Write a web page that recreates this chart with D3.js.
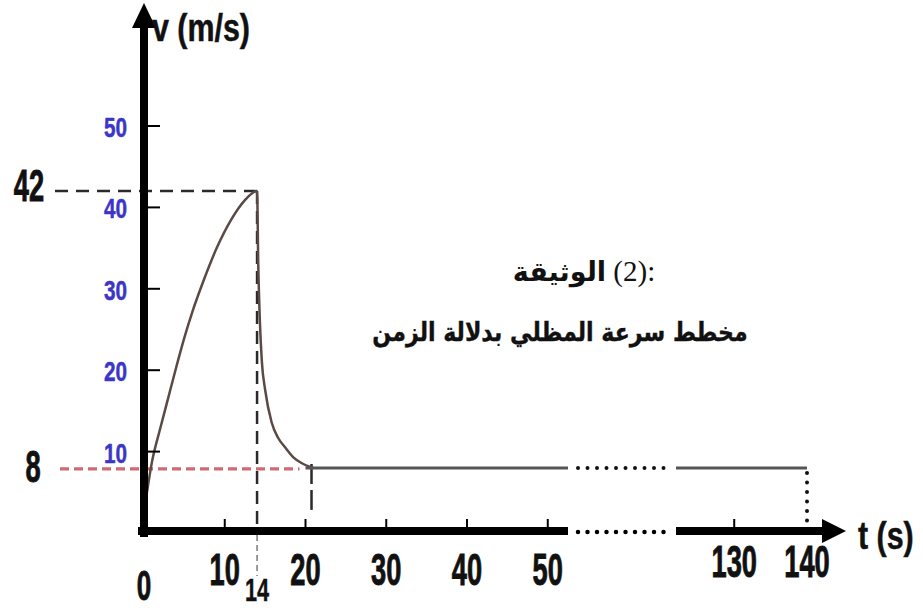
<!DOCTYPE html>
<html>
<head>
<meta charset="utf-8">
<script src="https://cdn.jsdelivr.net/npm/d3@7"></script>
<style>
  body { margin: 0; background: #fff; }
</style>
</head>
<body>
<div id="chart"></div>
<script>
// values
const yTicks = [10, 20, 30, 40, 50];
const xTicks = [0, 10, 20, 30, 40, 50, 130, 140];
const speedT = [0, 1, 2, 3, 4, 5, 6, 7.3, 9, 10.8, 12.5, 14,
  14.15, 14.35, 14.6, 15, 15.8, 16.6, 17.5, 18.5, 19.5, 20.5, 21];
const speedV = [2.5, 8.8, 12.8, 16.6, 20.4, 24, 27.2, 30.8, 35, 38.5, 40.9, 42,
  33, 26, 21, 17.6, 13.6, 11.7, 10.5, 9.3, 8.6, 8.15, 8];
const peak = { t: 14, v: 42 };
const terminal = { t: 20, v: 8 };
const tEnd = 140;
const axisBreak = [53, 122];
const titleWord = 'الوثيقة';
const titleNum = '(2):';
const subtitle = 'مخطط سرعة المظلي بدلالة الزمن';

const width = 923;
const height = 610;
const numFont = "'Liberation Sans', Arial, sans-serif";

const svg = d3.select('#chart').append('svg')
  .attr('width', width)
  .attr('height', height);

// broken time axis: 53..122 is squeezed into the dotted gap
const x = d3.scaleLinear()
  .domain([0, axisBreak[0], axisBreak[1], tEnd])
  .range([144, 572, 676, 807]);
const y = d3.scaleLinear()
  .domain([0, 50])
  .range([533, 126]);

const axisY = 531;

// condensed label helper (the original lettering is very narrow and heavy)
function label(txt, px, py, opts) {
  const o = Object.assign({ size: 44, sx: 0.62, weight: 'bold', fill: '#111', anchor: 'middle', bold: 0.9 }, opts);
  svg.append('text')
    .attr('transform', `translate(${px},${py}) scale(${o.sx},1)`)
    .attr('text-anchor', o.anchor)
    .style('font-family', o.family || numFont)
    .style('font-size', `${o.size}px`)
    .style('font-weight', o.weight)
    .style('fill', o.fill)
    .style('stroke', o.fill)
    .style('stroke-width', o.bold)
    .text(txt);
}

// ---------- guide lines ----------
// 42 dashed to the y axis
svg.append('line')
  .attr('x1', 55).attr('x2', x(peak.t))
  .attr('y1', y(peak.v)).attr('y2', y(peak.v))
  .attr('stroke', '#2a2a2a').attr('stroke-width', 2.5)
  .attr('stroke-dasharray', '13 8');

// red dashed at terminal speed
svg.append('line')
  .attr('x1', 60).attr('x2', x(terminal.t) - 6)
  .attr('y1', y(terminal.v) + 1).attr('y2', y(terminal.v) + 1)
  .attr('stroke', '#cf6a74').attr('stroke-width', 3.2)
  .attr('stroke-dasharray', '9 5');

// vertical dashed at t = 14
svg.append('line')
  .attr('x1', x(peak.t)).attr('x2', x(peak.t))
  .attr('y1', y(peak.v)).attr('y2', axisY)
  .attr('stroke', '#2a2a2a').attr('stroke-width', 2.5)
  .attr('stroke-dasharray', '13 7');
svg.append('line')
  .attr('x1', x(peak.t)).attr('x2', x(peak.t))
  .attr('y1', axisY + 4).attr('y2', 576)
  .attr('stroke', '#333').attr('stroke-width', 1)
  .attr('stroke-dasharray', '6 4');

// vertical dashed at t = 20
svg.append('line')
  .attr('x1', x(terminal.t) + 6).attr('x2', x(terminal.t) + 6)
  .attr('y1', y(terminal.v) - 4).attr('y2', 510)
  .attr('stroke', '#2a2a2a').attr('stroke-width', 2.5)
  .attr('stroke-dasharray', '20 6');

// ---------- speed curve ----------
const pts = speedT.map((t, i) => [t, speedV[i]]);
const line = d3.line()
  .x(d => x(d[0]))
  .y(d => y(d[1]))
  .curve(d3.curveMonotoneX);

svg.append('path')
  .datum(pts)
  .attr('d', line)
  .attr('fill', 'none')
  .attr('stroke', '#5a4a46')
  .attr('stroke-width', 2.5);

// plateau at terminal speed, broken like the axis
svg.append('line')
  .attr('x1', x(terminal.t)).attr('x2', x(axisBreak[0]) - 4)
  .attr('y1', y(terminal.v)).attr('y2', y(terminal.v))
  .attr('stroke', '#555').attr('stroke-width', 3);
svg.append('line')
  .attr('x1', x(axisBreak[0]) + 6).attr('x2', x(axisBreak[1]) - 4)
  .attr('y1', y(terminal.v)).attr('y2', y(terminal.v))
  .attr('stroke', '#111').attr('stroke-width', 4)
  .attr('stroke-linecap', 'round')
  .attr('stroke-dasharray', '0 9.5');
svg.append('line')
  .attr('x1', x(axisBreak[1])).attr('x2', x(tEnd))
  .attr('y1', y(terminal.v)).attr('y2', y(terminal.v))
  .attr('stroke', '#555').attr('stroke-width', 3);
// dotted drop at t = 140
svg.append('line')
  .attr('x1', x(tEnd)).attr('x2', x(tEnd))
  .attr('y1', y(terminal.v) + 5).attr('y2', axisY - 6)
  .attr('stroke', '#111').attr('stroke-width', 4)
  .attr('stroke-linecap', 'round')
  .attr('stroke-dasharray', '0 9.5');

// ---------- axes ----------
// y axis shaft + arrow
svg.append('line')
  .attr('x1', x(0)).attr('x2', x(0))
  .attr('y1', axisY + 6).attr('y2', 24)
  .attr('stroke', '#000').attr('stroke-width', 8);
svg.append('path')
  .attr('d', `M${x(0)},3 L${x(0) - 12},28 L${x(0) + 12},28 Z`)
  .attr('fill', '#000');

// y ticks
svg.selectAll('line.ytick')
  .data(yTicks)
  .join('line')
  .attr('class', 'ytick')
  .attr('x1', x(0)).attr('x2', x(0) + 16)
  .attr('y1', d => y(d)).attr('y2', d => y(d))
  .attr('stroke', '#000').attr('stroke-width', 2);
yTicks.forEach((v) => {
  label(String(v), 127, y(v) + 11, { size: 28, sx: 0.74, fill: '#3b36c8', anchor: 'end', bold: 0.5 });
});

// x axis shaft (broken) + arrow
svg.append('line')
  .attr('x1', x(0) - 6).attr('x2', x(axisBreak[0]) - 4)
  .attr('y1', axisY).attr('y2', axisY)
  .attr('stroke', '#000').attr('stroke-width', 8);
svg.append('line')
  .attr('x1', x(axisBreak[0]) + 6).attr('x2', x(axisBreak[1]) - 4)
  .attr('y1', axisY + 1).attr('y2', axisY + 1)
  .attr('stroke', '#000').attr('stroke-width', 4.5)
  .attr('stroke-linecap', 'round')
  .attr('stroke-dasharray', '0 9.5');
svg.append('line')
  .attr('x1', x(axisBreak[1])).attr('x2', 826)
  .attr('y1', axisY).attr('y2', axisY)
  .attr('stroke', '#000').attr('stroke-width', 8);
svg.append('path')
  .attr('d', `M846,${axisY} L822,${axisY - 12} L822,${axisY + 12} Z`)
  .attr('fill', '#000');

// x ticks (small, above the axis)
svg.selectAll('line.xtick')
  .data(xTicks.filter(t => t > 0 && t < tEnd))
  .join('line')
  .attr('class', 'xtick')
  .attr('x1', d => x(d)).attr('x2', d => x(d))
  .attr('y1', axisY - 12).attr('y2', axisY)
  .attr('stroke', '#000').attr('stroke-width', 2);

xTicks.forEach((t) => {
  let base = 585;
  if (t === 0) base = 600;
  if (t > axisBreak[1]) base = 577;
  label(String(t), x(t), base, t === 0 ? { size: 42 } : {});
});
label(String(peak.t), x(peak.t), 601, { size: 31, sx: 0.7, bold: 0.4 });

// marked values on the left
label(String(peak.v), 29, 201);
label(String(terminal.v), 33, 482);

// axis titles
label('v (m/s)', 152, 41, { size: 38, sx: 0.8, anchor: 'start', bold: 0.5 });
label('t (s)', 858, 549, { size: 38, sx: 0.8, anchor: 'start', bold: 0.5 });

// ---------- caption ----------
const arabicFont = "'DejaVu Sans', 'Noto Sans', sans-serif";
const cap1 = svg.append('text')
  .attr('x', 584).attr('y', 281)
  .attr('text-anchor', 'middle')
  .attr('direction', 'ltr')
  .style('fill', '#111');
cap1.append('tspan')
  .style('font-family', arabicFont)
  .style('font-size', '27px')
  .style('font-weight', 'bold')
  .style('unicode-bidi', 'isolate')
  .attr('direction', 'rtl')
  .text(titleWord);
cap1.append('tspan')
  .style('font-family', "'Liberation Serif', 'DejaVu Serif', serif")
  .style('font-size', '29px')
  .text('\u00a0' + titleNum);

svg.append('text')
  .attr('transform', 'translate(560,341) scale(0.85,1)')
  .attr('text-anchor', 'middle')
  .style('font-family', arabicFont)
  .style('font-size', '26px')
  .style('font-weight', 'bold')
  .style('fill', '#111')
  .style('stroke', '#111')
  .style('stroke-width', 0.4)
  .text(subtitle);
</script>
</body>
</html>
